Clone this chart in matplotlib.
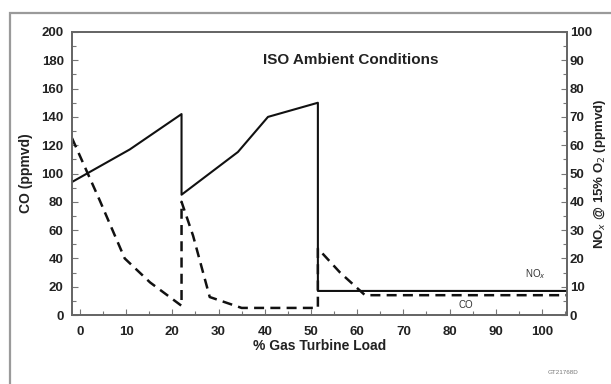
import matplotlib
matplotlib.use('Agg')
from matplotlib import pyplot as plt
from matplotlib.patches import Rectangle
from matplotlib.ticker import MultipleLocator

plt.rcParams['font.family'] = ['Liberation Sans', 'DejaVu Sans']

# % gas turbine load / NOx (ppmvd @ 15% O2, right axis)
load_nox = [-1.7, 10.8, 22, 22, 34.2, 40.7, 51.5, 51.5, 105.4]
nox = [47, 58.5, 71, 42.5, 57.6, 70, 75, 8.5, 8.5]

# % gas turbine load / CO (ppmvd, left axis)
load_co = [-1.7, 4.3, 9.7, 15.2, 22, 22, 24.5, 28.1, 35, 51.5, 51.5, 56.3, 61.7, 105.4]
co = [125, 81, 40, 23, 6.5, 80, 56, 12.7, 5, 5, 47, 30, 14, 14]

x_ticks = [0, 10, 20, 30, 40, 50, 60, 70, 80, 90, 100]
co_ticks = [0, 20, 40, 60, 80, 100, 120, 140, 160, 180, 200]
nox_ticks = [0, 10, 20, 30, 40, 50, 60, 70, 80, 90, 100]

W, H = 611, 384
fig = plt.figure(figsize=(W / 100, H / 100), dpi=100)
ax = fig.add_axes([72 / W, 1 - 315 / H, 495 / W, 283 / H])
ax2 = ax.twinx()

# outer frame of the scanned page
fig.add_artist(Rectangle((10 / W, -0.1), 1.2, 1.1 - 13 / H, transform=fig.transFigure,
                         fill=False, ec='#9a9a9a', lw=1.6))

ax.plot(load_co, co, color='#111111', lw=1.8, ls=(0, (4, 2.5)))
ax2.plot(load_nox, nox, color='#111111', lw=1.5)

ax.set_xlim(-1.7, 105.4)
ax.set_ylim(0, 200)
ax2.set_ylim(0, 100)

ax.set_xticks(x_ticks)
ax.set_yticks(co_ticks)
ax2.set_yticks(nox_ticks)
ax.xaxis.set_minor_locator(MultipleLocator(5))
ax.yaxis.set_minor_locator(MultipleLocator(10))
ax2.yaxis.set_minor_locator(MultipleLocator(5))

ax.tick_params(axis='x', direction='in', length=4, width=0.8, color='#777777', pad=8,
               labelsize=9.5)
ax.tick_params(axis='y', direction='in', length=4, width=0.8, color='#777777', pad=6,
               labelsize=9.5)
ax.tick_params(which='minor', direction='in', length=3, width=0.8, color='#777777')
ax2.tick_params(axis='y', direction='in', length=4, width=0.8, color='#777777', pad=2,
                labelsize=9.5)
ax2.tick_params(which='minor', direction='in', length=3, width=0.8, color='#777777')
for lab in ax.get_xticklabels() + ax.get_yticklabels() + ax2.get_yticklabels():
    lab.set_fontweight('bold')
    lab.set_color('#222222')

for a in (ax, ax2):
    for s in a.spines.values():
        s.set_color('#666666')
        s.set_linewidth(1.3)

ax.set_xlabel('% Gas Turbine Load', fontsize=10, fontweight='bold', color='#222222', labelpad=1)
ax.set_ylabel('CO (ppmvd)', fontsize=10, fontweight='bold', color='#222222', labelpad=6)
ax2.set_ylabel(r'NO$_x$ @ 15% O$_2$ (ppmvd)', fontsize=9.5, fontweight='bold',
               color='#222222', labelpad=0)

ax.text(0.563, 0.9, 'ISO Ambient Conditions', transform=ax.transAxes, ha='center',
        va='center', fontsize=11, fontweight='bold', color='#222222')
ax.text(98.5, 24, r'NO$_x$', fontsize=7, color='#333333', ha='center', va='bottom')
ax.text(83.5, 7, 'CO', fontsize=7, color='#333333', ha='center', va='center')
fig.text(563 / W, 1 - 372 / H, 'GT21768D', fontsize=4.5, color='#777777', ha='center',
         va='center')

fig.savefig('out.png', dpi=100)
